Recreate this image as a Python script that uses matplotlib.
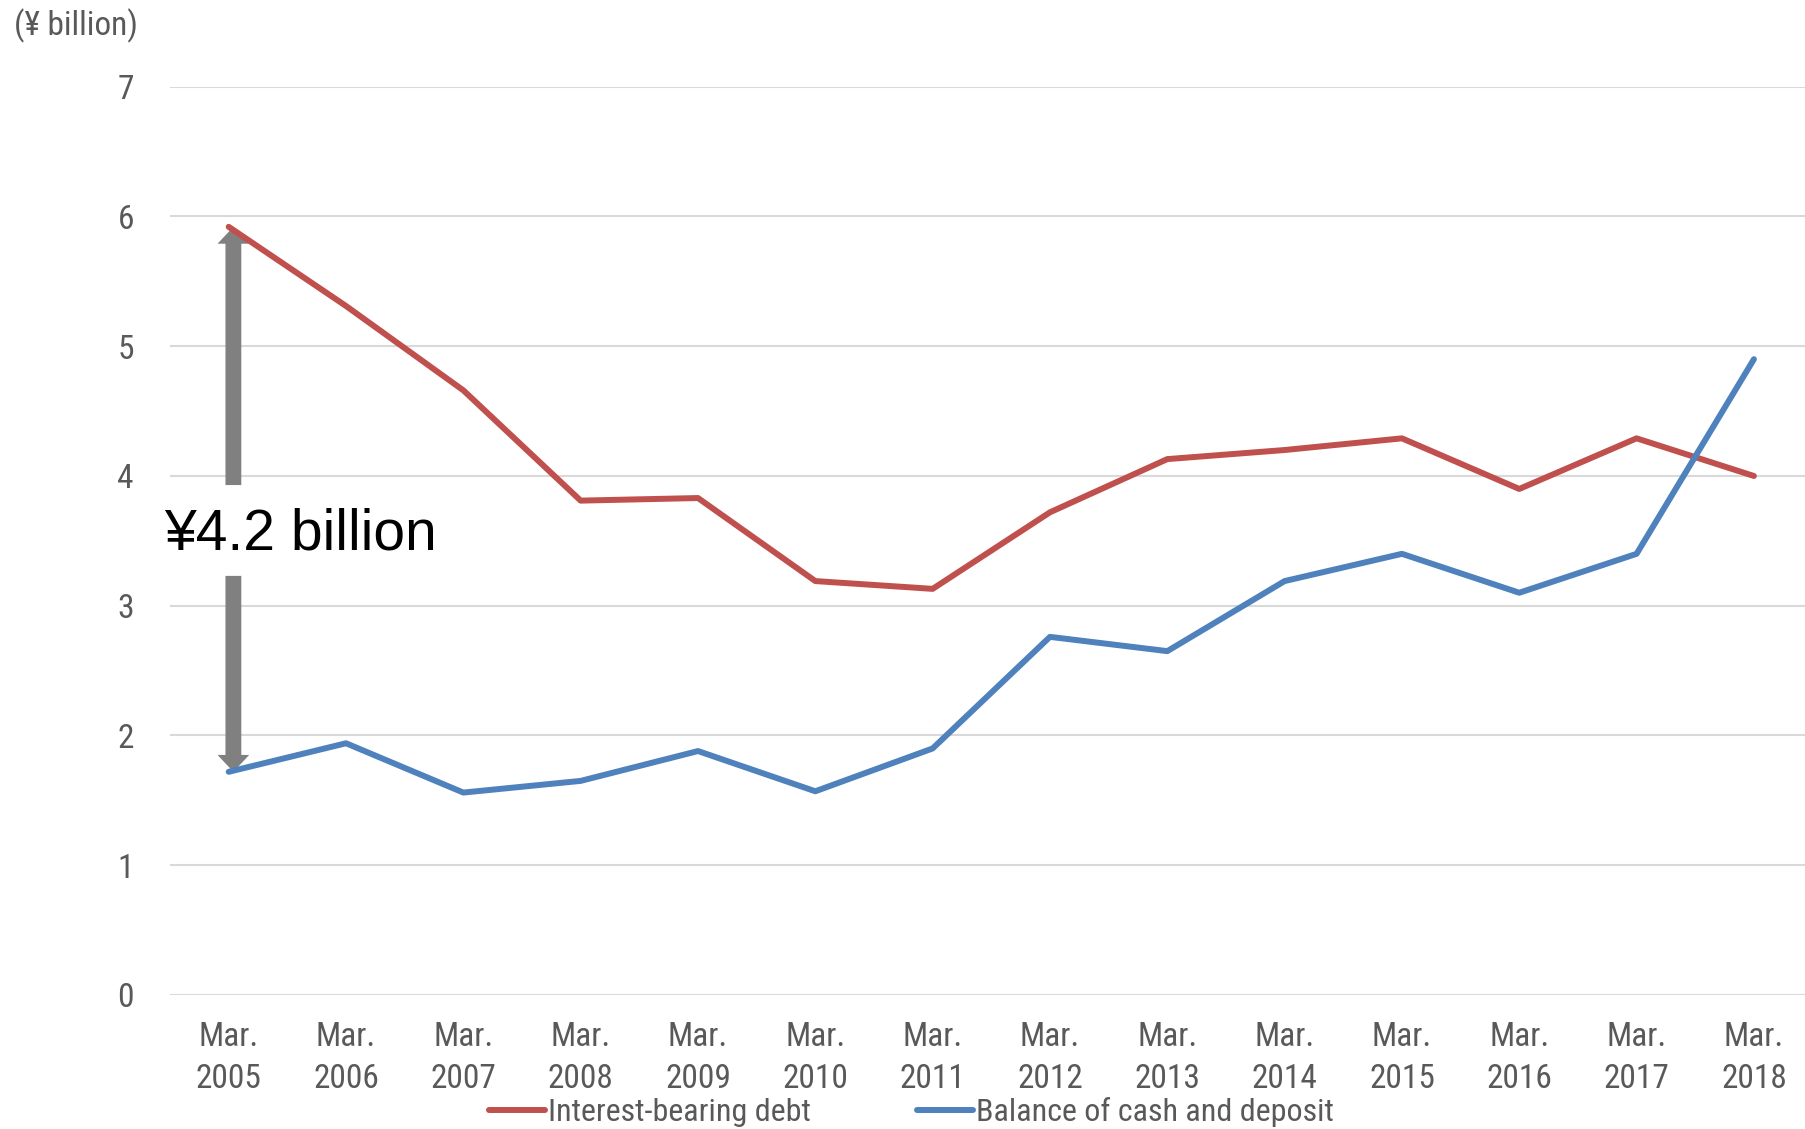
import numpy as np
import matplotlib.pyplot as plt

# Fiscal year-end labels and balances (¥ billion)
years = ['2005', '2006', '2007', '2008', '2009', '2010', '2011',
         '2012', '2013', '2014', '2015', '2016', '2017', '2018']
debt = [5.92, 5.31, 4.66, 3.81, 3.83, 3.19, 3.13,
        3.72, 4.13, 4.20, 4.29, 3.90, 4.29, 4.00]
cash = [1.72, 1.94, 1.56, 1.65, 1.88, 1.57, 1.90,
        2.76, 2.65, 3.19, 3.40, 3.10, 3.40, 4.90]
gap_label = '¥4.2 billion'

narrow = ['Liberation Sans Narrow', 'Arial Narrow', 'Roboto Condensed',
          'Open Sans Condensed', 'Roboto', 'DejaVu Sans']
grey_txt = '#595959'
red = '#C0504D'
blue = '#4F81BD'
fs = 24

fig = plt.figure(figsize=(18.05, 11.29), dpi=100)
ax = fig.add_axes([0.0942, 0.1187, 0.910, 0.8045])

x = np.arange(len(years))
ax.plot(x, debt, color=red, lw=4.3, solid_capstyle='round', label='Interest-bearing debt', zorder=3)
ax.plot(x, cash, color=blue, lw=4.3, solid_capstyle='round', label='Balance of cash and deposit', zorder=3)

ax.set_xlim(-0.5, len(years) - 0.5)
ax.set_ylim(0, 7)
ax.set_yticks(range(8))
ax.set_xticks(x)
ax.set_xticklabels(['Mar.\n' + y for y in years])
ax.yaxis.grid(True, color='#D9D9D9', lw=1.5)
ax.set_axisbelow(True)
for s in ax.spines.values():
    s.set_visible(False)
ax.tick_params(length=0, labelcolor=grey_txt, labelsize=fs)
ax.tick_params(axis='y', pad=26)
ax.tick_params(axis='x', pad=19)
for lab in ax.get_xticklabels() + ax.get_yticklabels():
    lab.set_family(narrow)
    lab.set_linespacing(1.4)

# double arrow showing the net debt gap in the first year
ax_x = 0.04
ax.arrow(ax_x, 3.93, 0, debt[0] - 3.93, width=0.135, head_width=0.27,
         head_length=0.13, length_includes_head=True, color='#808080', lw=0, zorder=2)
ax.arrow(ax_x, 3.23, 0, cash[0] - 3.23, width=0.135, head_width=0.27,
         head_length=0.13, length_includes_head=True, color='#808080', lw=0, zorder=2)
ax.text(-0.55, 3.55, gap_label, fontsize=41, family=['Liberation Sans', 'DejaVu Sans'],
        va='center', ha='left', color='black', zorder=4)

fig.text(0.0078, 0.977, '(¥ billion)', fontsize=fs, family=narrow,
         color=grey_txt, va='center', ha='left')

leg = fig.legend(loc='center', bbox_to_anchor=(0.505, 0.015), ncol=2, frameon=False,
                 handlelength=1.75, handletextpad=0.1, columnspacing=3.3,
                 prop={'family': narrow, 'size': 23})
for t in leg.get_texts():
    t.set_color(grey_txt)

fig.savefig('out.png', dpi=100)
